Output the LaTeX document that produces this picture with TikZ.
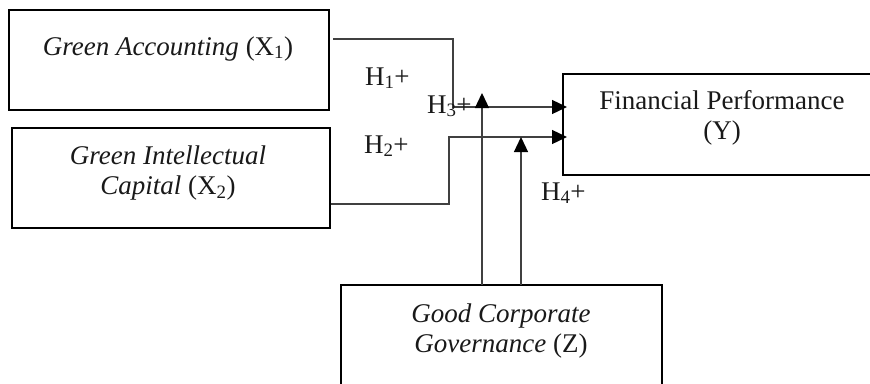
\documentclass[tikz,border=0pt]{standalone}
\usepackage{fontspec}
\setmainfont{Liberation Serif}
\usetikzlibrary{arrows.meta,calc}
\begin{document}
\begin{tikzpicture}[x=1pt,y=-1pt,
  box/.style={draw=black,line width=2pt,inner sep=0pt,outer sep=0pt},
  txt/.style={inner sep=0pt,outer sep=0pt,font=\fontsize{27}{30}\selectfont,text=black!90},
  conn/.style={draw=black!75,line width=1.3pt,-{Triangle[length=15pt,width=14pt,color=black]}},
  wire/.style={draw=black!70,line width=1.3pt}]
\useasboundingbox (0,0) rectangle (870,383);
\clip (0,0) rectangle (870,383);
% boxes
\node[box,minimum width=320pt,minimum height=100pt] (X1) at (169,60) {};
\node[box,minimum width=318pt,minimum height=100pt] (X2) at (171,178) {};
\node[box,minimum width=337pt,minimum height=101pt] (Y) at (731.5,124.5) {};
\node[box,minimum width=321pt,minimum height=135pt] (Z) at (501.5,352.5) {};
% texts
\node[txt,anchor=base] (tX1) at (168,55) {\textit{Green Accounting} (X\textsubscript{1})};
\node[txt,align=center,anchor=center] (tX2) at (168,173) {\textit{Green Intellectual}\\\textit{Capital} (X\textsubscript{2})};
\node[txt,align=center,anchor=center] (tY) at (722,118) {Financial Performance\\(Y)};
\node[txt,align=center,anchor=center] (tZ) at (501,331) {\textit{Good Corporate}\\\textit{Governance} (Z)};
% hypothesis labels
\node[txt,anchor=base west] (h1) at (365,85) {H\textsubscript{1}+};
\node[txt,anchor=base west] (h2) at (364,153) {H\textsubscript{2}+};
\node[txt,anchor=base west] (h4) at (541,200) {H\textsubscript{4}+};
% connectors
\coordinate (m1) at (482,93);
\coordinate (m2) at (521,137);
\draw[conn] ($(X1.north east)+(4,29)$) -| (453,107) -- ($(Y.west)+(4,-17.5)$);
\draw[conn] ($(X2.east)+(1,26)$) -| (449,137) -- ($(Y.west)+(4,12.5)$);
\draw[conn] ($(Z.north)+(-19.5,0)$) -- (m1);
\draw[conn] ($(Z.north)+(19.5,0)$) -- (m2);
\node[txt,anchor=base west] (h3) at (427,113) {H\textsubscript{3}+};
\end{tikzpicture}
\end{document}
